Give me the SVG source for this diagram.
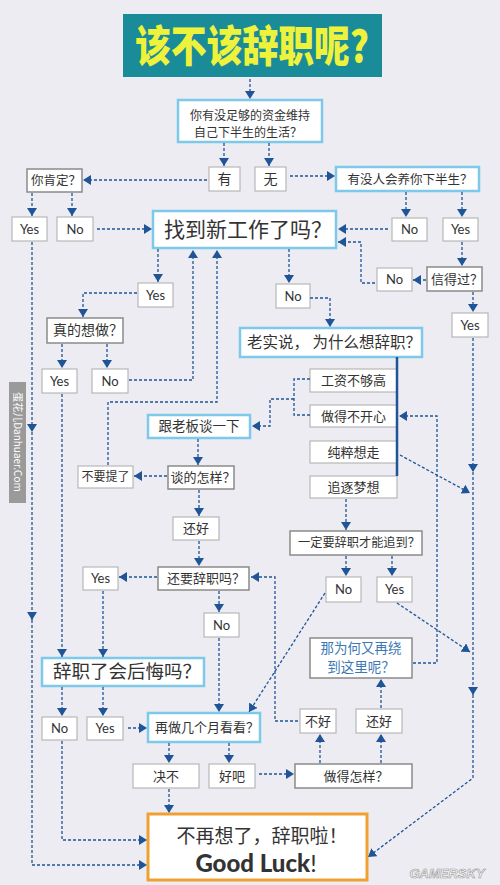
<svg xmlns="http://www.w3.org/2000/svg" width="500" height="885" viewBox="0 0 500 885">
<defs>
<marker id="ah" markerUnits="userSpaceOnUse" markerWidth="8" markerHeight="10" refX="8" refY="5" orient="auto">
<path d="M0,0 L8,5 L0,10 z" fill="#1F5596"/>
</marker>
<style>
.bb{fill:#fff;stroke:#7EC8EA;stroke-width:2.5}
.gb{fill:#fff;stroke:#8A8A8A;stroke-width:1.5}
.wb{fill:#fff;stroke:#B8B8B8;stroke-width:1.2}
.t{font-family:"Noto Sans CJK SC","Noto Sans",sans-serif;fill:#333;text-anchor:middle}
.y{font-family:Lato,"Noto Sans",sans-serif;fill:#333;text-anchor:middle;font-size:13px}
.c path{fill:none;stroke:#1F5596;stroke-width:1.3;stroke-dasharray:3 2;marker-end:url(#ah)}
.c path.n{marker-end:none}
</style>
</defs>
<rect width="500" height="885" fill="#ECECF2"/>

<g id="title">
<rect x="123" y="14" width="259" height="63" fill="#1A8C99"/>
<text x="252" y="62" class="t" style="fill:#EEF23A;font-weight:900;font-size:43px" textLength="234" lengthAdjust="spacingAndGlyphs">该不该辞职呢?</text>
</g>

<g id="q1"><rect class="bb" x="178" y="100" width="144" height="42"/>
<text class="t" x="250" y="119.5" font-size="12">你有没足够的资金维持</text>
<text class="t" x="248" y="136.5" font-size="12">自己下半生的生活？</text></g>
<g id="you"><rect class="wb" x="209" y="167" width="31" height="24"/><text class="t" x="224.5" y="184" font-size="14">有</text></g>
<g id="wu"><rect class="wb" x="255" y="167" width="31" height="24"/><text class="t" x="270.5" y="184" font-size="14">无</text></g>
<g id="sure"><rect class="gb" x="27" y="169" width="55" height="23"/><text class="t" x="56" y="185" font-size="12.5">你肯定？</text></g>
<g id="sureYes"><rect class="wb" x="12" y="217" width="35" height="24"/><text class="y" x="29.5" y="234">Yes</text></g>
<g id="sureNo"><rect class="wb" x="57" y="217" width="36" height="24"/><text class="y" x="75" y="234">No</text></g>
<g id="found"><rect class="bb" x="153" y="211" width="183" height="37"/><text class="t" x="248" y="237" font-size="21">找到新工作了吗？</text></g>
<g id="support"><rect class="bb" x="336" y="167" width="143" height="24"/><text class="t" x="410" y="184" font-size="12.5">有没人会养你下半生？</text></g>
<g id="supNo"><rect class="wb" x="392" y="218" width="35" height="23"/><text class="y" x="409.5" y="234">No</text></g>
<g id="supYes"><rect class="wb" x="443" y="218" width="35" height="23"/><text class="y" x="460.5" y="234">Yes</text></g>
<g id="trust"><rect class="gb" x="427" y="267" width="55" height="24"/><text class="t" x="457" y="284" font-size="13">信得过？</text></g>
<g id="trustNo"><rect class="wb" x="377" y="268" width="35" height="23"/><text class="y" x="394.5" y="284">No</text></g>
<g id="trustYes"><rect class="wb" x="452" y="313" width="36" height="24"/><text class="y" x="470" y="330">Yes</text></g>
<g id="foundYes"><rect class="wb" x="138" y="283" width="35" height="24"/><text class="y" x="155.5" y="300">Yes</text></g>
<g id="foundNo"><rect class="wb" x="276" y="284" width="34" height="24"/><text class="y" x="293" y="301">No</text></g>
<g id="really"><rect class="gb" x="47" y="318" width="76" height="25"/><text class="t" x="88" y="335" font-size="14">真的想做？</text></g>
<g id="reallyYes"><rect class="wb" x="42" y="369" width="35" height="24"/><text class="y" x="59.5" y="386">Yes</text></g>
<g id="reallyNo"><rect class="wb" x="92" y="369" width="36" height="24"/><text class="y" x="110" y="386">No</text></g>
<g id="why"><rect class="bb" x="240" y="328" width="182" height="29"/><text class="t" x="334" y="348" font-size="15.5">老实说， 为什么想辞职？</text></g>
<g id="r1"><rect class="wb" x="310" y="369" width="87" height="23"/><text class="t" x="353.5" y="385" font-size="13">工资不够高</text></g>
<g id="r2"><rect class="wb" x="310" y="405" width="87" height="22"/><text class="t" x="353.5" y="421" font-size="13">做得不开心</text></g>
<g id="r3"><rect class="wb" x="310" y="441" width="87" height="22"/><text class="t" x="353.5" y="457" font-size="13">纯粹想走</text></g>
<g id="r4"><rect class="wb" x="310" y="476" width="87" height="22"/><text class="t" x="353.5" y="492" font-size="13">追逐梦想</text></g>
<g id="boss"><rect class="bb" x="148" y="415" width="102" height="23"/><text class="t" x="199" y="431" font-size="13.5">跟老板谈一下</text></g>
<g id="talk"><rect class="gb" x="168" y="466" width="66" height="23"/><text class="t" x="203" y="482" font-size="13">谈的怎样？</text></g>
<g id="forget"><rect class="wb" x="78" y="466" width="55" height="22"/><text class="t" x="105.5" y="481" font-size="12">不要提了</text></g>
<g id="ok1"><rect class="wb" x="173" y="517" width="46" height="23"/><text class="t" x="196" y="533" font-size="13">还好</text></g>
<g id="still"><rect class="gb" x="158" y="567" width="91" height="23"/><text class="t" x="206" y="583" font-size="13">还要辞职吗？</text></g>
<g id="stillYes"><rect class="wb" x="83" y="567" width="35" height="23"/><text class="y" x="100.5" y="583">Yes</text></g>
<g id="stillNo"><rect class="wb" x="204" y="613" width="35" height="24"/><text class="y" x="221.5" y="630">No</text></g>
<g id="must"><rect class="gb" x="290" y="531" width="132" height="24"/><text class="t" x="359" y="547" font-size="12.2">一定要辞职才能追到？</text></g>
<g id="mustNo"><rect class="wb" x="326" y="577" width="35" height="25"/><text class="y" x="343.5" y="594">No</text></g>
<g id="mustYes"><rect class="wb" x="377" y="577" width="35" height="25"/><text class="y" x="394.5" y="594">Yes</text></g>
<g id="regret"><rect class="bb" x="42" y="658" width="162" height="28"/><text class="t" x="127" y="678" font-size="18.5">辞职了会后悔吗？</text></g>
<g id="regNo"><rect class="wb" x="42" y="717" width="35" height="23"/><text class="y" x="59.5" y="733">No</text></g>
<g id="regYes"><rect class="wb" x="87" y="717" width="36" height="23"/><text class="y" x="105" y="733">Yes</text></g>
<g id="months"><rect class="bb" x="148" y="713" width="112" height="29"/><text class="t" x="207" y="732" font-size="13">再做几个月看看？</text></g>
<g id="again"><rect class="gb" x="310" y="638" width="102" height="40"/>
<text class="t" x="361" y="653" font-size="13.5" style="fill:#3B78B5">那为何又再绕</text>
<text class="t" x="361" y="672" font-size="13.5" style="fill:#3B78B5">到这里呢？</text></g>
<g id="bad"><rect class="wb" x="300" y="709" width="36" height="24"/><text class="t" x="318" y="726" font-size="13">不好</text></g>
<g id="ok2"><rect class="wb" x="356" y="709" width="46" height="24"/><text class="t" x="379" y="726" font-size="13">还好</text></g>
<g id="never"><rect class="wb" x="133" y="764" width="66" height="24"/><text class="t" x="166" y="781" font-size="13">决不</text></g>
<g id="fine"><rect class="wb" x="209" y="764" width="46" height="24"/><text class="t" x="232" y="781" font-size="13">好吧</text></g>
<g id="how"><rect class="gb" x="295" y="764" width="117" height="24"/><text class="t" x="356" y="781" font-size="13">做得怎样？</text></g>
<g id="final"><rect x="148" y="814" width="219" height="66" fill="#fff" stroke="#F0A030" stroke-width="3"/>
<text class="t" x="262" y="843" font-size="19">不再想了，辞职啦！</text>
<text x="256" y="872" style="font-family:Lato,'Noto Sans',sans-serif;font-size:24px;font-weight:900;fill:#333;text-anchor:middle">Good Luck<tspan font-weight="400">!</tspan></text></g>

<g id="connectors" class="c">
<path d="M250 79 V99"/>
<path d="M224 143 V166"/>
<path d="M269 143 V166"/>
<path d="M207 180 H83"/>
<path d="M32 193 V216"/>
<path d="M72 193 V216"/>
<path d="M97 229 H152"/>
<path d="M290 176 H335"/>
<path d="M406 192 V217"/>
<path d="M462 192 V217"/>
<path d="M388 229 H338"/>
<path d="M462 242 V266"/>
<path d="M426 280 H413"/>
<path d="M375 283 H361 V242 H338"/>
<path d="M473 292 V312"/>
<path d="M473 338 V472"/>
<path d="M473 472 V695"/>
<path d="M473 695 V778 L368 857"/>
<path d="M400 455 L470 493"/>
<path d="M397 603 L470 652"/>
<path d="M32 242 V432"/>
<path d="M32 432 V620"/>
<path d="M32 620 V865 H147"/>
<path d="M289 249 V283"/>
<path d="M310 298 H330 V327"/>
<path class="n" d="M310 379 H294 V415 H310"/>
<path d="M294 399 H270 V426 H252"/>
<path d="M198 439 V465"/>
<path d="M167 476 H134"/>
<path d="M108 465 V402 H217 V250"/>
<path d="M129 380 H193 V250"/>
<path d="M158 249 V282"/>
<path d="M137 293 H83 V317"/>
<path d="M62 344 V368"/>
<path d="M107 344 V368"/>
<path d="M62 394 V657"/>
<path d="M199 490 V516"/>
<path d="M199 541 V566"/>
<path d="M157 577 H119"/>
<path d="M103 591 V657"/>
<path d="M219 591 V612"/>
<path d="M219 638 V712"/>
<path d="M298 721 H275 V577 H251"/>
<path d="M346 499 V530"/>
<path d="M346 556 V576"/>
<path d="M392 556 V576"/>
<path d="M325 593 L249 712"/>
<path d="M413 663 H437 V416 H399"/>
<path d="M381 708 V679"/>
<path d="M320 763 V734"/>
<path d="M381 763 V734"/>
<path d="M62 687 V716"/>
<path d="M103 687 V716"/>
<path d="M128 728 H147"/>
<path d="M169 743 V763"/>
<path d="M229 743 V763"/>
<path d="M259 774 H294"/>
<path d="M169 789 V813"/>
<path d="M62 741 V840 H147"/>
</g>
<path d="M397 357 V476" stroke="#1F5596" stroke-width="2.5" fill="none"/>

<g id="watermarks">
<rect x="9" y="382" width="17" height="121" fill="#9A9A9A"/>
<text transform="translate(17.5,442) rotate(90)" y="3.5" style="font-family:'Noto Sans CJK SC','Noto Sans',sans-serif;font-size:10px;fill:#fff;text-anchor:middle">蛋花儿Danhuaer.Com</text>
<text x="447" y="878" style="font-family:'Liberation Sans',sans-serif;font-size:13px;font-weight:bold;font-style:italic;fill:#f6f6f6;stroke:#999;stroke-width:0.6;text-anchor:middle">GAMERSKY</text>
</g>
</svg>
